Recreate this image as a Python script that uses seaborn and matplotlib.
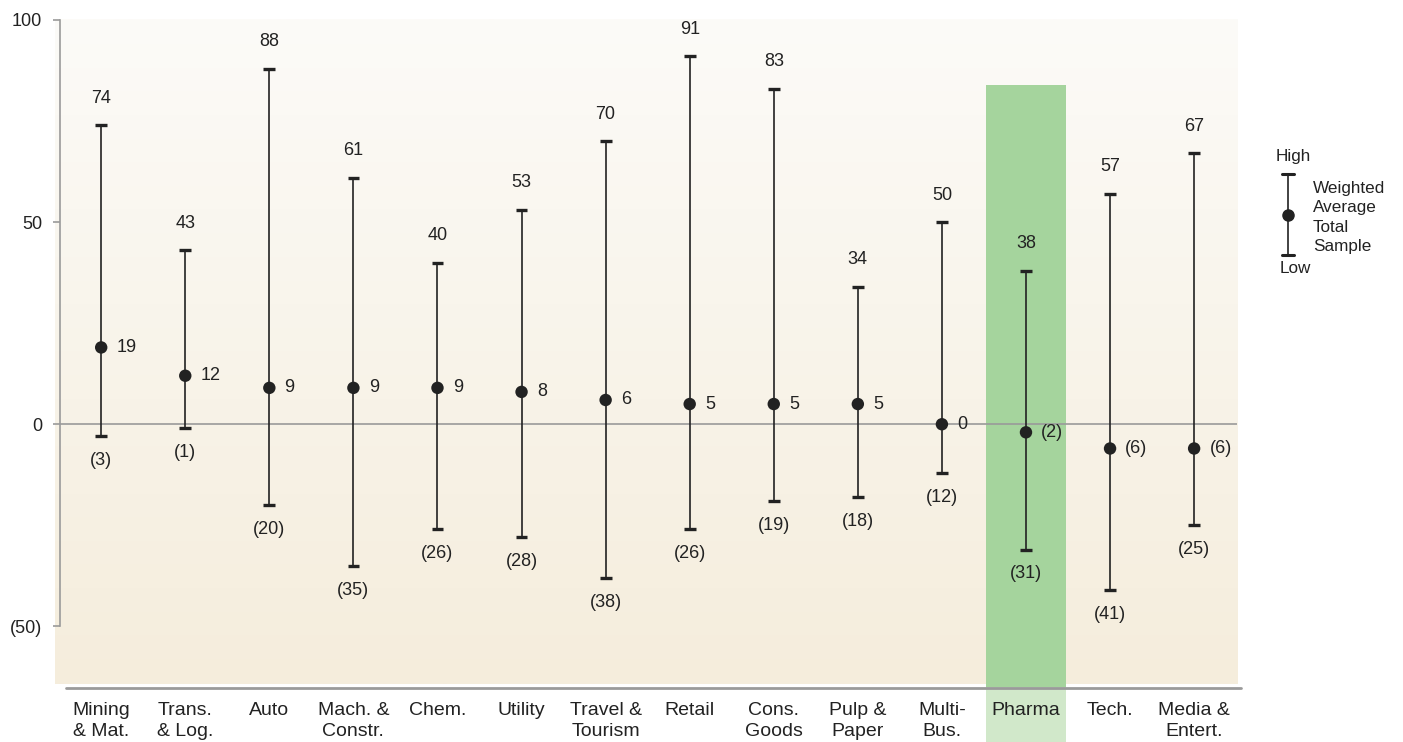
import numpy as np
import pandas as pd
import matplotlib
matplotlib.use("Agg")
import matplotlib.pyplot as plt
from matplotlib.lines import Line2D
from matplotlib.patches import Rectangle
import seaborn as sns

sns.set_theme(style="white")
plt.rcParams["font.family"] = ["Liberation Sans", "DejaVu Sans"]

# Industry ranges of returns: high, weighted average, low
categories = ["Mining\n& Mat.", "Trans.\n& Log.", "Auto", "Mach. &\nConstr.", "Chem.",
              "Utility", "Travel &\nTourism", "Retail", "Cons.\nGoods", "Pulp &\nPaper",
              "Multi-\nBus.", "Pharma", "Tech.", "Media &\nEntert."]
high = [74, 43, 88, 61, 40, 53, 70, 91, 83, 34, 50, 38, 57, 67]
average = [19, 12, 9, 9, 9, 8, 6, 5, 5, 5, 0, -2, -6, -6]
low = [-3, -1, -20, -35, -26, -28, -38, -26, -19, -18, -12, -31, -41, -25]
highlight = "Pharma"
highlight_top = 84
y_ticks = [100, 50, 0, -50]

df = pd.DataFrame({"cat": categories, "high": high, "avg": average, "low": low})
df["pos"] = np.arange(len(df))

W, H = 1403, 742
fig = plt.figure(figsize=(W / 100, H / 100), dpi=100)
ax = fig.add_axes([60 / W, 1 - 687 / H, (1237 - 60) / W, (687 - 20) / H])
ax.set_xlim(-0.49, len(df) - 0.49)
ax.set_ylim(-65, 100)
ax.set_axisbelow(False)

ink = "#222222"
grey = "#9a9a9a"

def fmt(v):
    return f"({abs(v)})" if v < 0 else f"{v}"

# soft vertical gradient behind the plot
t = np.linspace(0, 1, 256).reshape(-1, 1, 1)
top_c = np.array([252, 251, 248]) / 255
bot_c = np.array([245, 237, 220]) / 255
img = top_c + (bot_c - top_c) * t
ax.imshow(img, aspect="auto", extent=[-0.0045, 1, 0.004, 1],
          transform=ax.transAxes, zorder=0, clip_on=False)

# highlighted industry column
hi = categories.index(highlight)
ax.add_patch(Rectangle((hi - 0.475, -65), 0.95, highlight_top + 65,
                       facecolor="#a5d49d", edgecolor="none", zorder=1))
ax.add_patch(Rectangle((hi - 0.475, -100), 0.95, 35, facecolor="#d1e8ca",
                       edgecolor="none", zorder=1, clip_on=False))

# zero line
ax.axhline(0, color=grey, lw=1.2, zorder=2, xmin=-0.004)

# range lines with caps
ax.vlines(df["pos"], df["low"], df["high"], color=ink, lw=1.2, zorder=3)
ax.hlines(df["high"], df["pos"] - 0.07, df["pos"] + 0.07, color=ink, lw=2.4, zorder=3)
ax.hlines(df["low"], df["pos"] - 0.07, df["pos"] + 0.07, color=ink, lw=2.4, zorder=3)

sns.scatterplot(data=df, x="pos", y="avg", ax=ax, s=80, color=ink,
                edgecolor="none", zorder=4, legend=False)

for _, r in df.iterrows():
    ax.annotate(fmt(r["high"]), (r["pos"], r["high"]), xytext=(0, 19.5),
                textcoords="offset points", ha="center", va="center",
                fontsize=13, color=ink)
    ax.annotate(fmt(r["low"]), (r["pos"], r["low"]), xytext=(0, -17.5),
                textcoords="offset points", ha="center", va="center",
                fontsize=13, color=ink)
    ax.annotate(fmt(r["avg"]), (r["pos"], r["avg"]), xytext=(11, 0),
                textcoords="offset points", ha="left", va="center",
                fontsize=13, color=ink)

# axes styling
for s in ["top", "right", "bottom"]:
    ax.spines[s].set_visible(False)
ax.spines["left"].set_color(grey)
ax.spines["left"].set_linewidth(1.2)
ax.spines["left"].set_bounds(-50, 100)
ax.set_yticks(y_ticks)
ax.set_yticklabels([fmt(v) for v in y_ticks], fontsize=13, color=ink)
ax.tick_params(axis="y", length=5, width=1.2, color=grey, pad=8, left=True)
ax.set_xticks(df["pos"])
ax.set_xticklabels(df["cat"], fontsize=14, color=ink, linespacing=1.3, va="top")
ax.tick_params(axis="x", length=0, pad=11)
ax.set_xlabel("")
ax.set_ylabel("")
ax.grid(False)

# baseline under the plot
ax.plot([0.005, 1.003], [-0.002, -0.002], transform=ax.transAxes, color=grey,
        lw=2, clip_on=False, zorder=5)

# key explaining the range glyph
def fx(x):
    return x / W

def fy(y):
    return 1 - y / H

kx = 1288
fig.add_artist(Line2D([fx(kx), fx(kx)], [fy(174), fy(255)], color=ink, lw=1.2))
for yy in (174, 255):
    fig.add_artist(Line2D([fx(kx - 6), fx(kx + 6)], [fy(yy), fy(yy)], color=ink, lw=2.2))
fig.add_artist(Line2D([fx(kx)], [fy(215)], marker="o", markersize=8, color=ink, lw=0))
fig.text(fx(1293), fy(157), "High", ha="center", va="center", fontsize=12.3, color=ink)
fig.text(fx(1295), fy(268), "Low", ha="center", va="center", fontsize=12.3, color=ink)
for i, t in enumerate(["Weighted", "Average", "Total", "Sample"]):
    fig.text(fx(1313), fy(188 + i * 19.5), t, ha="left", va="center",
             fontsize=12.3, color=ink)

fig.savefig("out.png", dpi=100)
